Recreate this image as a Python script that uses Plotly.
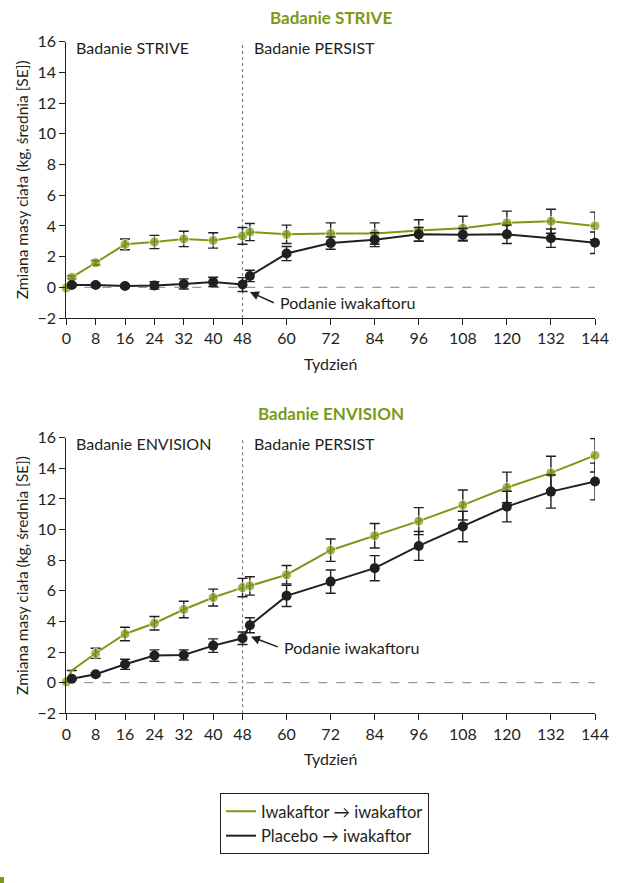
import plotly.graph_objects as go

# ---------------- data ----------------
weeks = [0, 1.5, 8, 16, 24, 32, 40, 48, 50, 60, 72, 84, 96, 108, 120, 132, 144]
weeks_placebo = weeks[1:]
tick_weeks = [0, 8, 16, 24, 32, 40, 48, 60, 72, 84, 96, 108, 120, 132, 144]
y_ticks = [-2, 0, 2, 4, 6, 8, 10, 12, 14, 16]

strive_iva = [-0.05, 0.65, 1.6, 2.8, 2.95, 3.15, 3.05, 3.35, 3.6, 3.45, 3.5, 3.5, 3.7, 3.85, 4.2, 4.3, 4.0]
strive_iva_se = [0, 0.1, 0.15, 0.35, 0.43, 0.5, 0.5, 0.55, 0.56, 0.6, 0.7, 0.7, 0.7, 0.78, 0.76, 0.78, 0.9]
strive_pla = [0.15, 0.15, 0.08, 0.12, 0.22, 0.35, 0.18, 0.74, 2.2, 2.88, 3.1, 3.45, 3.42, 3.45, 3.2, 2.9]
strive_pla_se = [0.1, 0.1, 0.1, 0.24, 0.33, 0.3, 0.45, 0.37, 0.46, 0.4, 0.45, 0.45, 0.41, 0.6, 0.6, 0.7]

envision_iva = [0.05, 0.8, 1.92, 3.18, 3.88, 4.78, 5.56, 6.21, 6.32, 7.05, 8.65, 9.6, 10.55, 11.6, 12.75, 13.7, 14.85]
envision_iva_se = [0, 0, 0.33, 0.44, 0.44, 0.54, 0.55, 0.6, 0.6, 0.6, 0.73, 0.8, 0.88, 0.98, 1.0, 1.09, 1.09]
envision_pla = [0.26, 0.55, 1.2, 1.77, 1.81, 2.42, 2.9, 3.75, 5.67, 6.6, 7.48, 8.93, 10.2, 11.5, 12.48, 13.14]
envision_pla_se = [0.05, 0.1, 0.33, 0.37, 0.33, 0.44, 0.41, 0.49, 0.69, 0.76, 0.82, 0.94, 1.0, 1.0, 1.08, 1.2]

series_names = ["Iwakaftor \u2192 iwakaftor", "Placebo \u2192 iwakaftor"]
panel_titles = ["Badanie STRIVE", "Badanie ENVISION"]
phase_left = ["Badanie STRIVE", "Badanie ENVISION"]
phase_right = "Badanie PERSIST"
arrow_text = "Podanie iwakaftoru"
y_title = "Zmiana masy cia\u0142a (kg, \u015brednia [SE])"
x_title = "Tydzie\u0144"

# ---------------- style ----------------
GREEN = "#7a9a14"
BLACK = "#231f20"
GREY = "#7f7f7f"
FONT = "Lato"
W, H = 618, 883

fig = go.Figure()

def add_panel(fig, xa, ya, iva, iva_se, pla, pla_se, hide_second_green):
    sizes = [10] * len(weeks)
    if hide_second_green:
        sizes[1] = 0
    fig.add_trace(go.Scatter(
        x=weeks, y=iva, mode="lines+markers", xaxis=xa, yaxis=ya,
        line=dict(color=GREEN, width=2), marker=dict(color=GREEN, size=sizes),
        error_y=dict(type="data", array=iva_se, visible=True, color=BLACK, thickness=1.4, width=5),
        cliponaxis=False, showlegend=False))
    fig.add_trace(go.Scatter(
        x=weeks_placebo, y=pla, mode="lines+markers", xaxis=xa, yaxis=ya,
        line=dict(color=BLACK, width=2), marker=dict(color=BLACK, size=10),
        error_y=dict(type="data", array=pla_se, visible=True, color=BLACK, thickness=1.4, width=5),
        cliponaxis=False, showlegend=False))

add_panel(fig, "x", "y", strive_iva, strive_iva_se, strive_pla, strive_pla_se, False)
add_panel(fig, "x2", "y2", envision_iva, envision_iva_se, envision_pla, envision_pla_se, True)

# legend-only entries (line symbols)
for name, col in zip(series_names, [GREEN, BLACK]):
    fig.add_trace(go.Scatter(x=[None], y=[None], mode="lines", name=name,
                             line=dict(color=col, width=2), showlegend=True))

x_dom = [66.3 / W, 595.0 / W]
top_dom = [1 - 318.0 / H, 1 - 41.7 / H]
bot_dom = [1 - 713.3 / H, 1 - 437.7 / H]

def xaxis(domain, anchor):
    return dict(domain=domain, anchor=anchor, range=[0, 144], tickvals=tick_weeks,
                automargin=False,
                showline=True, linecolor=BLACK, linewidth=1.3, ticks="outside", ticklen=6,
                tickcolor=BLACK, tickwidth=1.3, showgrid=False, zeroline=False,
                tickfont=dict(family=FONT, size=16, color=BLACK),
                title=dict(text=x_title, font=dict(family=FONT, size=16, color=BLACK), standoff=12))

def yaxis(domain, anchor):
    return dict(domain=domain, anchor=anchor, range=[-2, 16], tickvals=y_ticks,
                automargin=False,
                showline=True, linecolor=BLACK, linewidth=1.3, ticks="outside", ticklen=6,
                tickcolor=BLACK, tickwidth=1.3, showgrid=False, zeroline=False,
                tickfont=dict(family=FONT, size=16, color=BLACK),
                title=dict(text=y_title, font=dict(family=FONT, size=15.5, color=BLACK), standoff=4))

shapes = []
annotations = []
for xa, ya, left_lbl, title, tdom, arrow_head, arrow_tail, txt_pos in [
    ("x", "y", phase_left[0], panel_titles[0], top_dom, (50.0, -0.3), (56.9, -1.05), (57.6, -0.98)),
    ("x2", "y2", phase_left[1], panel_titles[1], bot_dom, (50.3, 3.0), (58.0, 2.3), (58.7, 2.27)),
]:
    yd = "y domain" if ya == "y" else "y2 domain"
    shapes.append(dict(type="line", xref=xa, yref=yd, x0=48, x1=48, y0=0, y1=1,
                       line=dict(color=GREY, width=1.2, dash="dot"), layer="below"))
    shapes.append(dict(type="line", xref=xa, yref=ya, x0=0, x1=144, y0=0, y1=0,
                       line=dict(color=GREY, width=1, dash="dash"), layer="below"))
    annotations.append(dict(xref=xa, yref=ya, x=2.2, y=15.6, text=left_lbl, showarrow=False,
                            xanchor="left", yanchor="middle",
                            font=dict(family=FONT, size=16, color=BLACK)))
    annotations.append(dict(xref=xa, yref=ya, x=50.6, y=15.6, text=phase_right, showarrow=False,
                            xanchor="left", yanchor="middle",
                            font=dict(family=FONT, size=16, color=BLACK)))
    annotations.append(dict(xref=xa, yref=ya, x=arrow_head[0], y=arrow_head[1], text="",
                            showarrow=True, axref=xa, ayref=ya, ax=arrow_tail[0], ay=arrow_tail[1],
                            arrowhead=2, arrowsize=1.2, arrowwidth=1.5, arrowcolor=BLACK))
    annotations.append(dict(xref=xa, yref=ya, x=txt_pos[0], y=txt_pos[1], text=arrow_text,
                            showarrow=False, xanchor="left", yanchor="middle",
                            font=dict(family=FONT, size=16, color=BLACK)))
    annotations.append(dict(xref="paper", yref="paper", x=0.535, y=tdom[1] + 24.5 / H,
                            text="<b>" + title + "</b>", showarrow=False,
                            xanchor="center", yanchor="middle",
                            font=dict(family=FONT, size=17, color=GREEN)))

# small decorative corner
shapes.append(dict(type="rect", xref="paper", yref="paper", x0=0, x1=4 / W, y0=0, y1=6 / H,
                   fillcolor=GREEN, line=dict(width=0)))

fig.update_layout(
    width=W, height=H,
    margin=dict(l=0, r=0, t=0, b=0),
    paper_bgcolor="white", plot_bgcolor="white",
    xaxis=xaxis(x_dom, "y"), yaxis=yaxis(top_dom, "x"),
    xaxis2=xaxis(x_dom, "y2"), yaxis2=yaxis(bot_dom, "x2"),
    shapes=shapes, annotations=annotations,
    legend=dict(x=220 / W, y=1 - 793 / H, xanchor="left", yanchor="top",
                bordercolor=BLACK, borderwidth=1, bgcolor="white",
                font=dict(family=FONT, size=16.5, color=BLACK), itemwidth=30,
                tracegroupgap=0),
    font=dict(family=FONT, color=BLACK),
)

fig.write_html("out.html", config={"displayModeBar": False},
               post_script="document.body.style.margin='0';document.body.style.overflow='hidden';")
